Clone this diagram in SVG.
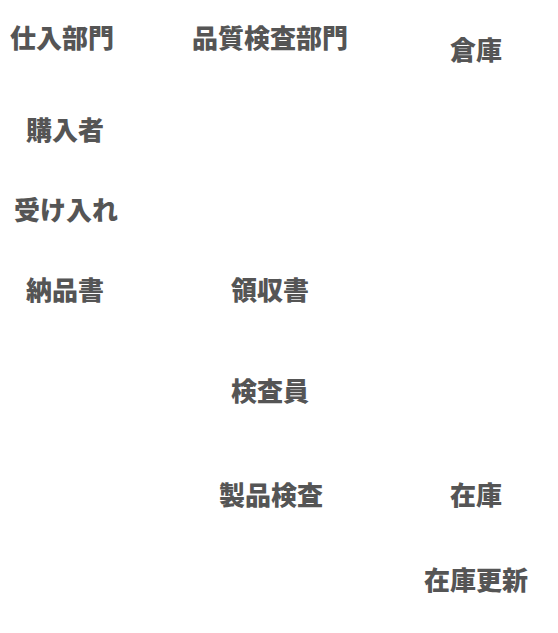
<svg xmlns="http://www.w3.org/2000/svg" width="558" height="633" viewBox="0 0 558 633">
<style>
.t{font-family:"Noto Sans CJK JP","Noto Sans CJK SC",sans-serif;font-size:26px;font-weight:900;fill:#555;text-anchor:middle}
</style>
<rect width="558" height="633" fill="#fff"/>
<g id="n1"><text class="t" x="62" y="48">仕入部門</text></g>
<g id="n2"><text class="t" x="270" y="48">品質検査部門</text></g>
<g id="n3"><text class="t" x="476" y="60">倉庫</text></g>
<g id="n4"><text class="t" x="65" y="140">購入者</text></g>
<g id="n5"><text class="t" x="66" y="220">受け入れ</text></g>
<g id="n6"><text class="t" x="65" y="300">納品書</text></g>
<g id="n7"><text class="t" x="270" y="300">領収書</text></g>
<g id="n8"><text class="t" x="270" y="401">検査員</text></g>
<g id="n9"><text class="t" x="271" y="505">製品検査</text></g>
<g id="n10"><text class="t" x="476" y="505">在庫</text></g>
<g id="n11"><text class="t" x="476" y="590">在庫更新</text></g>
<g id="connectors"></g>
</svg>
